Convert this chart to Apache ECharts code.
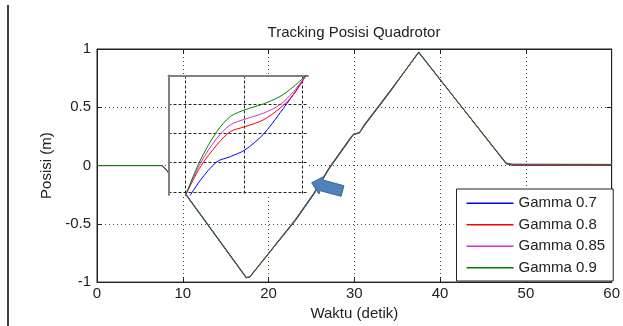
<!DOCTYPE html>
<html>
<head>
<meta charset="utf-8">
<script src="https://cdn.jsdelivr.net/npm/echarts@6/dist/echarts.min.js"></script>
<style>
  html, body { margin: 0; padding: 0; background: #fff; }
  #chart { width: 623px; height: 326px; }
</style>
</head>
<body>
<div id="chart"></div>
<script>
// main plot: time (s) and position (m) per gamma
const seriesNames = ["Gamma 0.7", "Gamma 0.8", "Gamma 0.85", "Gamma 0.9"];
const seriesColors = ["#0000ff", "#ff0000", "#cc33cc", "#008000"];

const mainT = [0, 7.6, 8.1, 10.4, 17.4, 17.8, 23.1, 25.2, 27.0, 29.6, 29.9, 30.6, 31.2, 34.3, 37.5, 37.7, 47.7, 48.4, 60];
const mainGamma07 = [0, 0, -0.04, -0.255, -0.965, -0.955, -0.475, -0.255, -0.035, 0.235, 0.265, 0.28, 0.345, 0.645, 0.975, 0.965, 0.015, 0.003, 0.002];
const mainGamma08 = [0, 0, -0.04, -0.25, -0.96, -0.955, -0.465, -0.245, -0.025, 0.245, 0.27, 0.28, 0.355, 0.655, 0.97, 0.965, 0.018, 0.004, 0.003];
const mainGamma085 = [0, 0, -0.04, -0.25, -0.96, -0.958, -0.468, -0.248, -0.028, 0.242, 0.268, 0.283, 0.352, 0.652, 0.97, 0.968, 0.02, 0.008, 0.006];
const mainGamma09 = [0, 0, -0.04, -0.25, -0.96, -0.96, -0.47, -0.25, -0.03, 0.24, 0.265, 0.285, 0.35, 0.65, 0.97, 0.97, 0.022, 0.012, 0.01];

// zoomed inset (own units)
const insetT = [1.0, 1.26, 1.54, 1.77, 2.02, 2.33, 2.62, 2.85, 3.06];
const insetGamma07 = [-0.4, 0.40, 1.03, 1.21, 1.44, 1.97, 2.72, 3.36, 4.0];
const insetGamma08 = [-0.15, 0.86, 1.61, 2.07, 2.24, 2.47, 2.88, 3.35, 4.0];
const insetGamma085 = [-0.15, 0.98, 1.84, 2.30, 2.50, 2.70, 3.00, 3.45, 4.0];
const insetGamma09 = [-0.15, 1.09, 2.07, 2.59, 2.82, 3.02, 3.28, 3.62, 4.0];

const xTicks = [0, 10, 20, 30, 40, 50, 60];
const yTicks = [-1, -0.5, 0, 0.5, 1];

const mainData = [mainGamma07, mainGamma08, mainGamma085, mainGamma09];
const insetData = [insetGamma07, insetGamma08, insetGamma085, insetGamma09];

const FONT = "Liberation Sans, Arial, sans-serif";
const TXT = "#222";

const chart = echarts.init(document.getElementById("chart"));

const dotted = { color: "#444", width: 1, type: [1, 3] };
const dashed = { color: "#222", width: 1, type: [3, 2] };

const mainXBase = {
  gridIndex: 0,
  type: "value",
  min: xTicks[0],
  max: xTicks[xTicks.length - 1],
  interval: xTicks[1] - xTicks[0],
  axisLine: { onZero: false, lineStyle: { color: "#222", width: 1 } },
  axisTick: { inside: true, length: 5, lineStyle: { color: "#222" } },
};
const mainYBase = {
  gridIndex: 0,
  type: "value",
  min: yTicks[0],
  max: yTicks[yTicks.length - 1],
  interval: yTicks[1] - yTicks[0],
  axisLine: { onZero: false, lineStyle: { color: "#222", width: 1 } },
  axisTick: { inside: true, length: 5, lineStyle: { color: "#222" } },
};

// block arrow annotation
const tip = [311.7, 182.7];
const tail = [342.5, 191];
const len = Math.hypot(tail[0] - tip[0], tail[1] - tip[1]);
const u = [(tail[0] - tip[0]) / len, (tail[1] - tip[1]) / len];
const n = [-u[1], u[0]];
const pt = (a, b) => [tip[0] + a * u[0] + b * n[0], tip[1] + a * u[1] + b * n[1]];
const arrowPts = [pt(0, 0), pt(10, 9), pt(10, 5.5), pt(len, 5.5), pt(len, -5.5), pt(10, -5.5), pt(10, -9)];

const option = {
  animation: false,
  backgroundColor: "#fff",
  textStyle: { fontFamily: FONT },
  grid: [
    { left: 97, right: 8, top: 49, bottom: 43, show: true, borderColor: "#222", borderWidth: 1, backgroundColor: "#fff" },
    { left: 168.5, top: 75.5, width: 139.5, height: 119.5, show: true, borderWidth: 0, backgroundColor: "#fff", z: 5 },
  ],
  xAxis: [
    {
      ...mainXBase,
      position: "bottom",
      name: "Waktu (detik)",
      nameLocation: "middle",
      nameGap: 23,
      nameTextStyle: { fontSize: 15, color: TXT, fontFamily: FONT },
      axisLabel: { fontSize: 15, color: TXT, margin: 4, fontFamily: FONT },
      splitLine: { show: true, lineStyle: dotted },
    },
    {
      ...mainXBase,
      position: "top",
      axisLabel: { show: false },
      splitLine: { show: false },
    },
    {
      gridIndex: 1,
      type: "value",
      position: "top",
      min: 0.716,
      max: 3.095,
      minInterval: 1,
      maxInterval: 1,
      z: 6,
      axisLine: { onZero: false, lineStyle: { color: "#808080", width: 2 } },
      axisTick: { show: false },
      axisLabel: { show: false },
      splitLine: { show: true, showMinLine: false, showMaxLine: false, lineStyle: dashed },
    },
  ],
  yAxis: [
    {
      ...mainYBase,
      position: "left",
      name: "Posisi (m)",
      nameLocation: "middle",
      nameGap: 42,
      nameTextStyle: { fontSize: 15, color: TXT, fontFamily: FONT },
      axisLabel: { fontSize: 15, color: TXT, margin: 6, fontFamily: FONT },
      splitLine: { show: true, lineStyle: dotted },
    },
    {
      ...mainYBase,
      position: "right",
      axisLabel: { show: false },
      splitLine: { show: false },
    },
    {
      gridIndex: 1,
      type: "value",
      position: "left",
      min: -0.11,
      max: 4,
      minInterval: 1,
      maxInterval: 1,
      z: 6,
      axisLine: { onZero: false, lineStyle: { color: "#808080", width: 2 } },
      axisTick: { show: false },
      axisLabel: { show: false },
      splitLine: { show: true, showMinLine: false, showMaxLine: false, lineStyle: dashed },
    },
  ],
  legend: {
    orient: "vertical",
    left: 456.5,
    top: 189,
    padding: [6, 8, 5, 10],
    backgroundColor: "#fff",
    borderColor: "#222",
    borderWidth: 1,
    borderRadius: 0,
    icon: "rect",
    itemWidth: 47,
    itemHeight: 1.5,
    itemGap: 5,
    textStyle: { fontSize: 15, color: TXT, fontFamily: FONT, lineHeight: 16.5, padding: [0, 0, 0, 0] },
    data: seriesNames,
    z: 8,
  },
  series: [
    ...seriesNames.map((name, i) => ({
      name,
      type: "line",
      xAxisIndex: 0,
      yAxisIndex: 0,
      symbol: "none",
      z: 2,
      lineStyle: { color: seriesColors[i], width: 1 },
      itemStyle: { color: seriesColors[i] },
      data: mainT.map((t, k) => [t, mainData[i][k]]),
    })),
    ...seriesNames.map((name, i) => ({
      name,
      type: "line",
      xAxisIndex: 2,
      yAxisIndex: 2,
      symbol: "none",
      smooth: 0.3,
      z: 7,
      lineStyle: { color: seriesColors[i], width: 1 },
      itemStyle: { color: seriesColors[i] },
      data: insetT.map((t, k) => [t, insetData[i][k]]),
    })),
  ],
  graphic: [
    {
      type: "text",
      x: 354,
      y: 33,
      z: 10,
      style: { text: "Tracking Posisi Quadrotor", fill: TXT, font: "15px " + FONT, textAlign: "center", textVerticalAlign: "middle" },
    },
    {
      type: "line",
      z: 10,
      shape: { x1: 8, y1: 5, x2: 8, y2: 326 },
      style: { stroke: "#000", lineWidth: 1.5 },
    },
    {
      type: "polygon",
      z: 10,
      shape: { points: arrowPts },
      style: { fill: "#4f81bd", stroke: "#3a6694", lineWidth: 1 },
    },
  ],
};

chart.setOption(option);
</script>
</body>
</html>
